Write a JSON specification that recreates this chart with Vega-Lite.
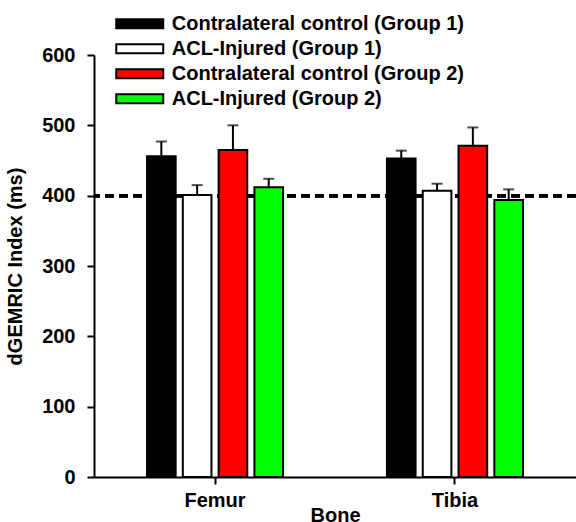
{
  "$schema": "https://vega.github.io/schema/vega-lite/v6.json",
  "width": 482,
  "height": 422,
  "autosize": {"type": "none"},
  "padding": {"left": 94, "top": 55, "right": 0, "bottom": 45},
  "background": "white",
  "config": {
    "view": {"stroke": null},
    "font": "Liberation Sans",
    "axis": {"domainColor": "black", "domainWidth": 2, "tickColor": "black", "tickWidth": 2, "tickSize": 7, "labelColor": "black", "labelFont": "Liberation Sans", "labelFontWeight": "bold", "labelFontSize": 20, "titleFont": "Liberation Sans", "titleFontWeight": "bold", "titleFontSize": 20, "titleColor": "black", "grid": false}
  },
  "data": {
    "values": [
      {"bone": "Femur", "group": "Contralateral control (Group 1)", "value": 456, "upper": 477},
      {"bone": "Femur", "group": "ACL-Injured (Group 1)", "value": 401, "upper": 415},
      {"bone": "Femur", "group": "Contralateral control (Group 2)", "value": 465, "upper": 500},
      {"bone": "Femur", "group": "ACL-Injured (Group 2)", "value": 412, "upper": 424},
      {"bone": "Tibia", "group": "Contralateral control (Group 1)", "value": 453, "upper": 464},
      {"bone": "Tibia", "group": "ACL-Injured (Group 1)", "value": 407, "upper": 417},
      {"bone": "Tibia", "group": "Contralateral control (Group 2)", "value": 471, "upper": 497},
      {"bone": "Tibia", "group": "ACL-Injured (Group 2)", "value": 394, "upper": 409}
    ]
  },
  "encoding": {
    "x": {"field": "bone", "type": "nominal", "scale": {"paddingInner": 0.433, "paddingOuter": 0.221}, "axis": {"title": "Bone", "labelAngle": 0, "labelPadding": 6, "titlePadding": -5}},
    "xOffset": {"field": "group", "type": "nominal", "scale": {"domain": ["Contralateral control (Group 1)", "ACL-Injured (Group 1)", "Contralateral control (Group 2)", "ACL-Injured (Group 2)"], "paddingInner": 0.2, "paddingOuter": 0}}
  },
  "layer": [
    {
      "mark": {"type": "rule", "strokeDash": [9, 5], "strokeWidth": 3, "color": "black"},
      "encoding": {"y": {"datum": 400, "type": "quantitative"}, "x": null, "xOffset": null}
    },
    {
      "mark": {"type": "rule", "strokeWidth": 2, "color": "black"},
      "encoding": {
        "y": {"field": "value", "type": "quantitative"},
        "y2": {"field": "upper"}
      }
    },
    {
      "mark": {"type": "tick", "size": 11, "thickness": 2, "color": "black"},
      "encoding": {
        "y": {"field": "upper", "type": "quantitative"}
      }
    },
    {
      "mark": {"type": "bar", "stroke": "black", "strokeWidth": 2},
      "encoding": {
        "y": {"field": "value", "type": "quantitative", "scale": {"domain": [0, 600], "nice": false}, "axis": {"values": [0, 100, 200, 300, 400, 500, 600], "title": "dGEMRIC Index (ms)", "titlePadding": 16, "labelPadding": 12}},
        "fill": {
          "field": "group", "type": "nominal",
          "scale": {"domain": ["Contralateral control (Group 1)", "ACL-Injured (Group 1)", "Contralateral control (Group 2)", "ACL-Injured (Group 2)"], "range": ["#000000", "#ffffff", "#ff0000", "#00ff00"]},
          "legend": {"title": null, "orient": "none", "legendX": 32.75, "legendY": -44.25, "symbolType": "M-2,-0.38H2V0.38H-2Z", "symbolSize": 552, "symbolStrokeColor": "black", "symbolStrokeWidth": 2, "symbolOpacity": 1, "labelFont": "Liberation Sans", "labelFontWeight": "bold", "labelFontSize": 20, "labelColor": "black", "labelOffset": 19, "rowPadding": 2, "labelLimit": 500}
        }
      }
    }
  ]
}
